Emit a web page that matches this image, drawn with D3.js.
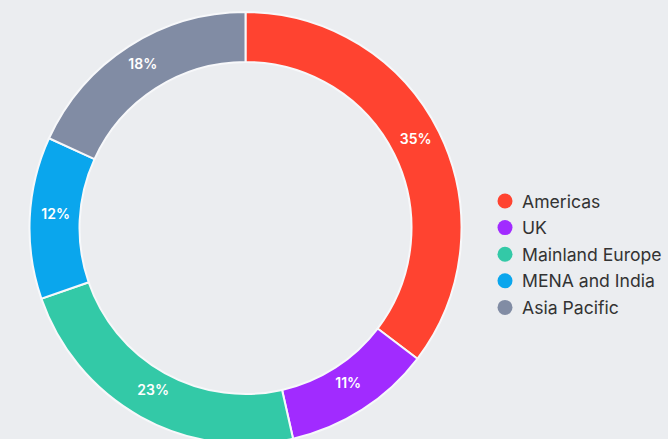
<!DOCTYPE html>
<html>
<head>
<meta charset="utf-8">
<script src="https://cdn.jsdelivr.net/npm/d3@7"></script>
<style>
  html, body { margin: 0; padding: 0; background: #ebedf0; }
  svg { display: block; font-family: Inter, "Noto Sans", sans-serif; }
</style>
</head>
<body>
<div id="donut"></div>
<script>
// Data
const regions = ["Americas", "UK", "Mainland Europe", "MENA and India", "Asia Pacific"];
const shares = [35, 11, 23, 12, 18];
const regionColors = ["#ff4330", "#a12bff", "#33c9a7", "#0aa6ed", "#818ca4"];

const width = 668;
const height = 439;
const center = { x: 245.5, y: 228 };
const outerRadius = 216;
const innerRadius = 166;

const data = regions.map((r, i) => ({ region: r, share: shares[i] }));

/*******************************/
/*    Append the containers    */
/*******************************/
const svg = d3.select("#donut")
  .append("svg")
  .attr("width", width)
  .attr("height", height)
  .attr("viewBox", [0, 0, width, height]);

const donut = svg
  .append("g")
  .attr("transform", `translate(${center.x}, ${center.y})`);

const colorScale = d3.scaleOrdinal()
  .domain(regions)
  .range(regionColors);

// Pie generator keeps the original order
const pieGenerator = d3.pie()
  .value(d => d.share)
  .sort(null);

const arcGenerator = d3.arc()
  .innerRadius(innerRadius)
  .outerRadius(outerRadius);

const labelArc = d3.arc()
  .innerRadius(190)
  .outerRadius(190);

const arcs = pieGenerator(data);

donut
  .selectAll(".slice")
  .data(arcs)
  .join("path")
    .attr("class", "slice")
    .attr("d", arcGenerator)
    .attr("fill", d => colorScale(d.data.region))
    .attr("stroke", "#f7f8fa")
    .attr("stroke-width", 2);

donut
  .selectAll(".slice-label")
  .data(arcs)
  .join("text")
    .attr("class", "slice-label")
    .attr("transform", d => `translate(${labelArc.centroid(d)})`)
    .attr("y", -5)
    .attr("text-anchor", "middle")
    .attr("dominant-baseline", "central")
    .attr("fill", "#ffffff")
    .attr("font-size", 14)
    .attr("font-weight", 600)
    .text(d => `${d.data.share}%`);

// Legend
const legend = svg
  .append("g")
  .attr("transform", "translate(505, 201)");

const legendItems = legend
  .selectAll(".legend-item")
  .data(regions)
  .join("g")
    .attr("class", "legend-item")
    .attr("transform", (d, i) => `translate(0, ${i * 26.6})`);

legendItems
  .append("circle")
  .attr("r", 7.5)
  .attr("fill", d => colorScale(d));

legendItems
  .append("text")
  .attr("x", 17)
  .attr("dominant-baseline", "central")
  .attr("fill", "#333333")
  .attr("font-size", 17.6)
  .text(d => d);
</script>
</body>
</html>
